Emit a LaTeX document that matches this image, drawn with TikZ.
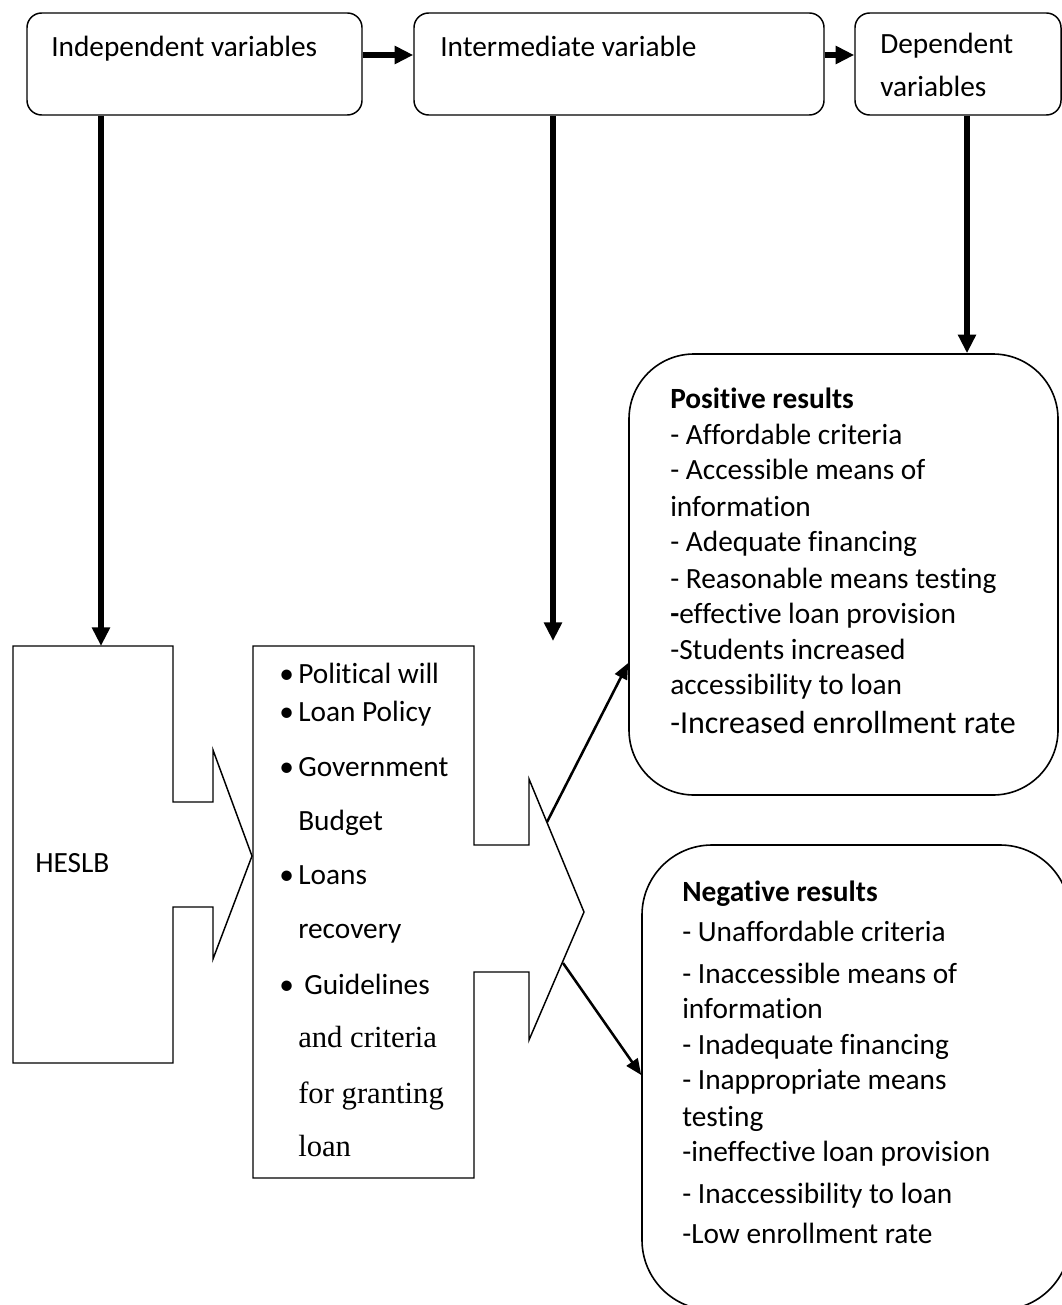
\documentclass[tikz,border=0pt]{standalone}
\usepackage{fontspec}
\newfontfamily\cf[Ligatures={NoCommon}]{Carlito}
\newfontfamily\bookf{Liberation Serif}
\usetikzlibrary{arrows.meta}
\begin{document}
\begin{tikzpicture}[x=0.75pt,y=-0.75pt,
  box/.style={draw, line width=1.1pt, rounded corners=11pt, inner sep=0pt},
  bigbox/.style={draw, line width=1.2pt, inner sep=0pt},
  txt/.style={anchor=west, inner sep=0pt, font=\cf\fontsize{22}{26}\selectfont, text height=15pt, text depth=5pt},
  big/.style={txt, font=\cf\fontsize{24}{28}\selectfont},
  sertxt/.style={txt, font=\bookf\fontsize{23}{27}\selectfont},
  heavy/.style={line width=4.2pt, -{Triangle[length=14pt,width=13pt]}},
  diag/.style={line width=1.9pt, -{Triangle[length=12pt,width=10pt]}},
  outline/.style={draw, line width=1.1pt, line join=miter}]

\useasboundingbox (0,0) rectangle (1062,1305);

% top boxes
\node[box, minimum width=251.25pt, minimum height=76.5pt] (iv) at (194.5,64) {};
\node[box, minimum width=307.5pt, minimum height=76.5pt] (mv) at (619,64) {};
\node[box, minimum width=154.5pt, minimum height=76.5pt] (dv) at (958,64) {};
\node[txt] (ivt) at (51,50) {Independent variables};
\node[txt] (mvt) at (440,50) {Intermediate variable};
\node[txt] (dvt1) at (880,47) {Dependent};
\node[txt] (dvt2) at (880,90) {variables};

\draw[heavy] (iv.east |- 0,55) -- (mv.west |- 0,55);
\draw[heavy] (mv.east |- 0,55) -- (dv.west |- 0,55);

% HESLB arrow shape
\draw[outline] (13,646) -- (173,646) -- (173,802) -- (213,802) -- (213,750) -- (252,856)
  -- (213,959) -- (213,907) -- (173,907) -- (173,1063) -- (13,1063) -- cycle;
\coordinate (htop) at (101,646);
\node[txt] (heslb) at (35,866) {HESLB};

% middle arrow shape
\draw[outline] (253,646) -- (474,646) -- (474,845) -- (529,845) -- (529,779) -- (584,912)
  -- (529,1040) -- (529,972) -- (474,972) -- (474,1178) -- (253,1178) -- cycle;
\coordinate (mfree) at (553,641);

\foreach \y/\n in {677/1,715/2,770/3,878/4,988/5}
  \node[txt] (bul\n) at (279,\y) {•};
\node[txt] (m1) at (298,677) {Political will};
\node[txt] (m2) at (298,715) {Loan Policy};
\node[txt] (m3) at (298,770) {Government};
\node[txt] (m4) at (298,824) {Budget};
\node[txt] (m5) at (298,878) {Loans};
\node[txt] (m6) at (298,932) {recovery};
\node[txt] (m7) at (304,988) {Guidelines};
\node[sertxt] (m8) at (298,1041) {and criteria};
\node[sertxt] (m9) at (298,1097) {for granting};
\node[sertxt] (m10) at (298,1150) {loan};

% vertical arrows
\draw[heavy] (iv.south -| htop) -- (htop);
\draw[heavy] (mv.south -| mfree) -- (mfree);

% positive box
\node[bigbox, rounded corners=48.75pt, minimum width=321.75pt, minimum height=330.75pt] (pos) at (843.5,574.5) {};
\draw[heavy] (dv.south -| 967,0) -- (pos.north -| 967,0);
\node[txt, font=\cf\bfseries\fontsize{22}{26}\selectfont] (p0) at (670,402) {Positive results};
\node[txt] (p1) at (670,438) {- Affordable criteria};
\node[txt] (p2) at (670,473) {- Accessible means of};
\node[txt] (p3) at (670,510) {information};
\node[txt] (p4) at (670,545) {- Adequate financing};
\node[txt] (p5) at (670,582) {- Reasonable means testing};
\node[txt] (p6) at (670,617) {\textbf{-}effective loan provision};
\node[txt] (p7) at (670,653) {-Students increased};
\node[txt] (p8) at (670,688) {accessibility to loan};
\node[big] (p9) at (670,727) {-Increased enrollment rate};

% negative box (clipped by page)
\begin{scope}
\clip (0,0) rectangle (1062,1305);
\node[bigbox, rounded corners=52.5pt, minimum width=321pt, minimum height=348.75pt] (neg) at (856,1077.5) {};
\end{scope}
\node[txt, font=\cf\bfseries\fontsize{22}{26}\selectfont] (n0) at (682,895) {Negative results};
\node[txt] (n1) at (682,935) {- Unaffordable criteria};
\node[txt] (n2) at (682,977) {- Inaccessible means of};
\node[txt] (n3) at (682,1012) {information};
\node[txt] (n4) at (682,1048) {- Inadequate financing};
\node[txt] (n5) at (682,1083) {- Inappropriate means};
\node[txt] (n6) at (682,1120) {testing};
\node[txt] (n7) at (682,1155) {-ineffective loan provision};
\node[txt] (n8) at (682,1197) {- Inaccessibility to loan};
\node[txt] (n9) at (682,1237) {-Low enrollment rate};

% diagonal arrows
\coordinate (s1) at (547,822);
\coordinate (s2) at (563,963);
\coordinate (e1) at (pos.west |- 0,663);
\coordinate (e2) at (neg.west |- 0,1075);
\draw[diag] (s1) -- (e1);
\draw[diag] (s2) -- (e2);
\end{tikzpicture}
\end{document}
